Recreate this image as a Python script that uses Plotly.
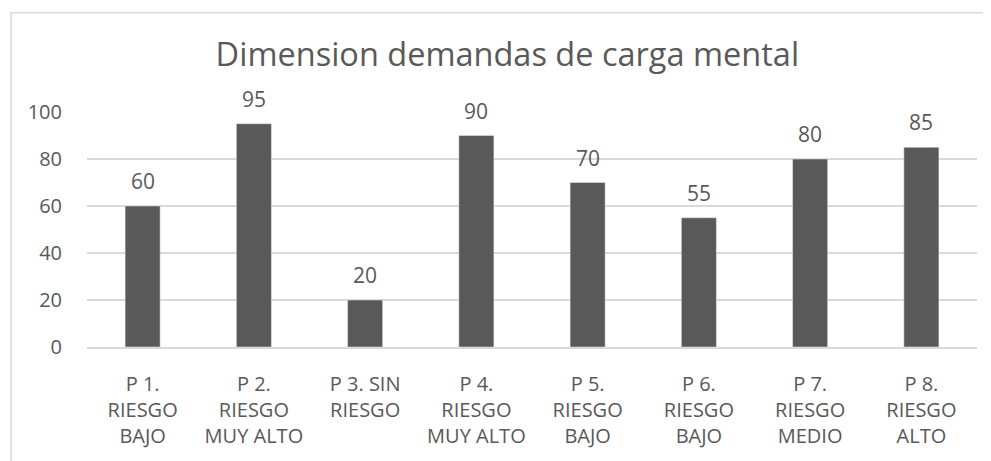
import plotly.graph_objects as go

categories = ["P 1.<br>RIESGO<br>BAJO", "P 2.<br>RIESGO<br>MUY ALTO", "P 3. SIN<br>RIESGO",
              "P 4.<br>RIESGO<br>MUY ALTO", "P 5.<br>RIESGO<br>BAJO", "P 6.<br>RIESGO<br>BAJO",
              "P 7.<br>RIESGO<br>MEDIO", "P 8.<br>RIESGO<br>ALTO"]
values = [60, 95, 20, 90, 70, 55, 80, 85]
y_ticks = [0, 20, 40, 60, 80, 100]
title_text = "Dimension demandas de carga mental"

FONT = "Open Sans"
GREY = "#595959"

W, H = 983, 453  # page body adds an 8px margin

fig = go.Figure()
fig.add_trace(go.Bar(x=categories, y=values, marker_color=GREY, width=0.315,
                     hoverinfo="x+y"))

for c, v in zip(categories, values):
    fig.add_annotation(x=c, y=v, text=str(v), showarrow=False, yanchor="bottom",
                       yshift=9, font=dict(family=FONT, size=21, color=GREY))

fig.add_shape(type="rect", xref="paper", yref="paper", x0=-0.0854, x1=1.05,
              y0=-0.6, y1=1.4219, line=dict(color="#d9d9d9", width=1.5),
              fillcolor="rgba(0,0,0,0)", layer="below")

fig.update_layout(
    width=W, height=H,
    margin=dict(l=79, r=14, t=104, b=112),
    paper_bgcolor="white", plot_bgcolor="white",
    showlegend=False,
    title=dict(text=title_text, x=0.508, xref="container", xanchor="center",
               y=1 - 58 / H, yref="container", yanchor="bottom",
               font=dict(family=FONT, size=32.5, color=GREY)),
    font=dict(family=FONT, color=GREY),
)
fig.update_xaxes(showgrid=False, showline=True, linecolor="#d9d9d9", linewidth=1.5,
                 tickfont=dict(family=FONT, size=20, color=GREY), ticks="",
                 ticklabelstandoff=18)
fig.update_yaxes(range=[0, 100], tickvals=y_ticks, showgrid=True, gridcolor="#d9d9d9",
                 gridwidth=1.5, zeroline=False, showline=False, ticks="",
                 tickfont=dict(family=FONT, size=20, color=GREY), ticklabelstandoff=24)

fig.write_html("out.html")
